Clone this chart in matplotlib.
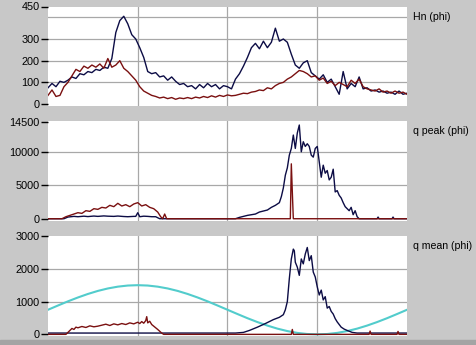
import matplotlib.pyplot as plt
from matplotlib.patches import Rectangle

# ============================================================
# DATA (phi in degrees)
# ============================================================

hn_phi = list(range(0, 361, 4))
hn_blue = [75, 95, 80, 105, 100, 110, 125, 118, 140, 135,
           150, 145, 160, 155, 170, 165, 210, 330, 385, 405,
           370, 320, 300, 260, 215, 150, 140, 145, 125, 130,
           110, 125, 105, 90, 95, 80, 85, 70, 90, 75,
           95, 80, 90, 70, 85, 80, 70, 115, 140, 175,
           215, 260, 280, 255, 290, 260, 285, 350, 290, 300,
           285, 230, 180, 165, 190, 200, 145, 130, 115, 135,
           100, 115, 80, 45, 150, 70, 95, 80, 125, 70,
           75, 60, 65, 55, 60, 50, 55, 45, 60, 45,
           50]
hn_red = [40, 65, 35, 40, 80, 100, 130, 160, 150, 175,
          165, 180, 170, 185, 165, 210, 170, 180, 200, 165,
          150, 130, 110, 80, 60, 50, 40, 35, 28, 32,
          25, 30, 22, 28, 25, 30, 25, 32, 28, 35,
          30, 38, 32, 40, 35, 42, 38, 40, 45, 50,
          48, 55, 58, 65, 62, 75, 70, 85, 95, 100,
          115, 125, 140, 155, 150, 140, 125, 130, 110, 120,
          95, 105, 85, 100, 90, 80, 110, 95, 115, 80,
          70, 65, 60, 70, 55, 60, 50, 60, 50, 55,
          45]

qpeak_blue_phi = [0, 16, 20, 26, 30, 36, 40, 46, 50, 56,
                  60, 66, 70, 76, 80, 86, 88, 90, 92, 96,
                  100, 104, 108, 112, 188, 192, 196, 200, 204, 208,
                  212, 216, 220, 224, 228, 232, 234, 236, 238, 240,
                  242, 244, 246, 248, 250, 252, 254, 256, 258, 260,
                  262, 264, 266, 268, 270, 272, 274, 276, 278, 280,
                  282, 284, 286, 288, 290, 292, 294, 296, 298, 300,
                  302, 304, 306, 308, 310, 312, 330, 331, 332, 345,
                  346, 347, 360]
qpeak_blue = [0, 0, 250, 350, 300, 380, 320, 400, 350, 420,
              380, 350, 400, 330, 300, 350, 350, 900, 300, 380,
              350, 300, 300, 0, 0, 200, 350, 500, 600, 700,
              1000, 1150, 1300, 1700, 2000, 2400, 3300, 4600, 6500, 7600,
              9500, 10500, 12500, 10500, 12800, 14000, 10000, 11500, 10800, 11200,
              10800, 9500, 9200, 10500, 10800, 8500, 6200, 8000, 6800, 7200,
              5800, 6200, 7400, 4000, 4200, 3500, 3100, 2400, 1800, 1500,
              1200, 1700, 600, 1200, 300, 0, 0, 250, 0, 0,
              250, 0, 0]

qpeak_red_phi = [0, 14, 18, 22, 26, 30, 34, 38, 42, 46,
                 50, 54, 58, 62, 66, 70, 74, 78, 82, 86,
                 90, 94, 98, 102, 106, 110, 113, 115, 117, 119,
                 243, 244, 245, 246, 247, 360]
qpeak_red = [0, 0, 300, 500, 700, 900, 800, 1200, 1100, 1500,
             1400, 1700, 1600, 2000, 1800, 2300, 1900, 2100, 1800, 2200,
             2400, 1900, 2100, 1700, 1500, 1000, 300, 0, 700, 0,
             0, 8200, 4000, 0, 0, 0]

qmean_blue_phi = [0, 188, 196, 202, 210, 218, 226, 232, 236, 238,
                  240, 242, 244, 246, 247, 248, 250, 252, 254, 256,
                  258, 260, 262, 264, 266, 268, 270, 272, 274, 276,
                  278, 280, 282, 284, 286, 288, 290, 292, 294, 297,
                  300, 305, 310, 360]
qmean_blue = [40, 40, 60, 120, 220, 330, 450, 520, 600, 750,
              1000, 1700, 2300, 2600, 2550, 2200, 2050, 1800, 2300, 2150,
              2450, 2650, 2250, 2400, 1900, 1750, 1450, 1200, 1350, 1050,
              1150, 800, 850, 700, 620, 480, 380, 300, 220, 160,
              120, 60, 40, 40]

qmean_red_phi = [0, 18, 20, 22, 24, 26, 28, 30, 34, 38,
                 42, 46, 50, 54, 58, 62, 66, 70, 74, 78,
                 82, 86, 90, 92, 94, 96, 98, 99, 100, 102,
                 104, 106, 110, 114, 116, 244, 245, 246, 322, 323,
                 324, 350, 351, 352, 360]
qmean_red = [0, 0, 60, 120, 180, 150, 220, 200, 240, 210,
             260, 230, 250, 280, 310, 270, 320, 290, 330, 300,
             350, 320, 370, 330, 390, 340, 420, 540, 350, 400,
             300, 250, 150, 40, 0, 0, 150, 0, 0, 100,
             0, 0, 90, 0, 0]

qmean_cyan_phi = list(range(0, 361, 10))
qmean_cyan = [750, 880, 1007, 1125, 1232, 1325, 1400, 1455, 1489, 1500,
              1489, 1455, 1400, 1325, 1232, 1125, 1007, 880, 750, 620,
              493, 375, 268, 175, 100, 45, 11, 0, 11, 45,
              100, 175, 268, 375, 493, 620, 750]

# ============================================================
# STYLE
# ============================================================

BG = '#c8c8c8'
NAVY = '#0c0c45'
RED = '#7a1010'
CYAN = '#52cccc'
GRID = '#a8a8a8'
W, H = 477, 345
plt.rcParams['font.family'] = ['Liberation Sans', 'DejaVu Sans']


def panel(fig, top_px, bottom_px, ylim, yticks, hgrid, label):
    ax = fig.add_axes([48 / W, 1 - bottom_px / H, (407 - 48) / W, (bottom_px - top_px) / H])
    ax.set_facecolor('white')
    for s in ax.spines.values():
        s.set_visible(False)
    ax.set_xlim(0, 360)
    ax.set_ylim(*ylim)
    ax.set_xticks([])
    ax.set_yticks(yticks)
    ax.tick_params(axis='y', length=5, width=1, color='black', pad=1, labelsize=7.8)
    for v in hgrid:
        ax.axhline(v, color=GRID, lw=0.9, zorder=0)
    for v in (90, 180, 270):
        ax.axvline(v, color=GRID, lw=0.9, zorder=0)
    fig.text(413 / W, 1 - (top_px + 10) / H, label, ha='left', va='center', fontsize=7.6)
    return ax


fig = plt.figure(figsize=(W / 100, H / 100), dpi=100, facecolor=BG)
fig.patches.append(Rectangle((0, 0), 1, 5 / H, transform=fig.transFigure, color='#a4a4a4', zorder=0))

ax1 = panel(fig, 6.5, 106, (-9, 450), [0, 100, 200, 300, 450], [100, 200, 300, 400], 'Hn (phi)')
ax1.plot(hn_phi, hn_blue, color=NAVY, lw=1)
ax1.plot(hn_phi, hn_red, color=RED, lw=1)

ax2 = panel(fig, 121, 221, (-340, 14600), [0, 5000, 10000, 14500], [5000, 10000], 'q peak (phi)')
ax2.plot(qpeak_blue_phi, qpeak_blue, color=NAVY, lw=1)
ax2.plot(qpeak_red_phi, qpeak_red, color=RED, lw=1)

ax3 = panel(fig, 236, 336, (-50, 3000), [0, 1000, 2000, 3000], [1000, 2000], 'q mean (phi)')
ax3.plot(qmean_cyan_phi, qmean_cyan, color=CYAN, lw=1.5)
ax3.plot(qmean_blue_phi, qmean_blue, color=NAVY, lw=1)
ax3.plot(qmean_red_phi, qmean_red, color=RED, lw=1)

fig.savefig('out.png', dpi=100, facecolor=BG)
